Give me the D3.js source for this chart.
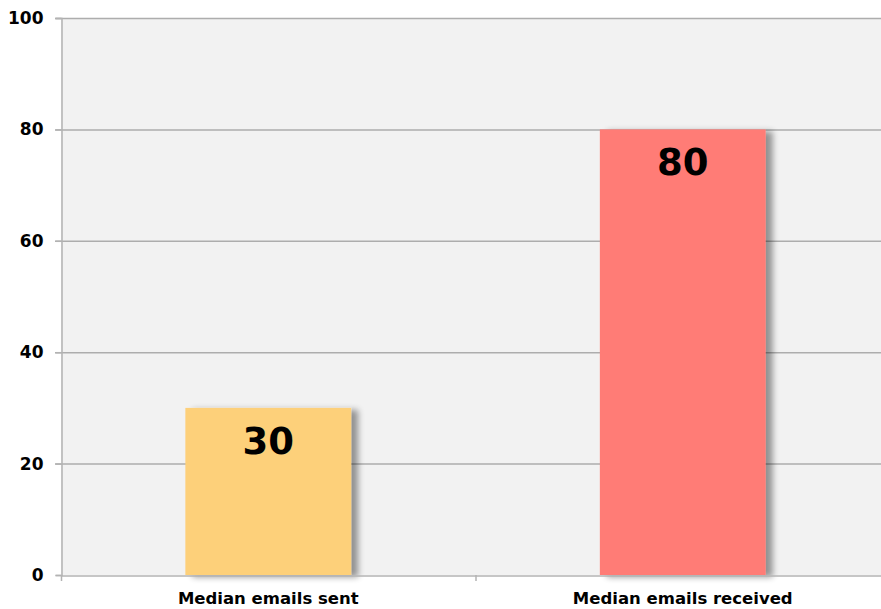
<!DOCTYPE html>
<html>
<head>
<meta charset="utf-8">
<script src="https://cdn.jsdelivr.net/npm/d3@7"></script>
<style>
  body { margin: 0; background: #fff; }
  svg text { font-family: "DejaVu Sans", Verdana, sans-serif; font-weight: bold; }
</style>
</head>
<body>
<div id="viz"></div>
<script>
const categories = ['Median emails sent', 'Median emails received'];
const values = [30, 80];
const barColors = ['#fdd07a', '#ff7b76'];
const yTicks = [0, 20, 40, 60, 80, 100];

const width = 881;
const height = 609;
const margin = { top: 18, right: -9, bottom: 34, left: 61 };

const svg = d3.select('#viz')
    .append('svg')
    .attr('width', width)
    .attr('height', height);

const defs = svg.append('defs');
const shadow = defs.append('filter').attr('id', 'shadow')
    .attr('x', '-20%').attr('y', '-20%').attr('width', '150%').attr('height', '140%');
shadow.append('feGaussianBlur').attr('in', 'SourceAlpha').attr('stdDeviation', 3).attr('result', 'blur');
shadow.append('feOffset').attr('in', 'blur').attr('dx', 7).attr('dy', 2).attr('result', 'off');
shadow.append('feComponentTransfer').attr('in', 'off').attr('result', 'sh')
    .append('feFuncA').attr('type', 'linear').attr('slope', 0.4);
const merge = shadow.append('feMerge');
merge.append('feMergeNode').attr('in', 'sh');
merge.append('feMergeNode').attr('in', 'SourceGraphic');

const x = d3.scaleBand()
    .domain(categories)
    .range([margin.left, width - margin.right])
    .paddingInner(0)
    .paddingOuter(0);

const y = d3.scaleLinear()
    .domain([0, 100])
    .range([height - margin.bottom, margin.top]);

// plot background
svg.append('rect')
    .attr('x', margin.left)
    .attr('y', margin.top)
    .attr('width', width - margin.right - margin.left)
    .attr('height', y(0) - margin.top)
    .attr('fill', '#f2f2f2');

// gridlines
svg.append('g')
    .selectAll('line')
    .data(yTicks.filter(d => d > 0))
    .join('line')
    .attr('x1', margin.left - 6)
    .attr('x2', width)
    .attr('y1', d => y(d) + 0.5)
    .attr('y2', d => y(d) + 0.5)
    .attr('stroke', '#adadad')
    .attr('stroke-width', 1.5);

// bars
const barW = x.bandwidth() * 0.4;
svg.append('g')
    .selectAll('rect')
    .data(values)
    .join('rect')
    .attr('x', (d, i) => x(categories[i]) + (x.bandwidth() - barW) / 2)
    .attr('y', d => y(d))
    .attr('width', barW)
    .attr('height', d => y(0) - y(d))
    .attr('fill', (d, i) => barColors[i])
    .attr('filter', 'url(#shadow)');

// value labels
svg.append('g')
    .selectAll('text')
    .data(values)
    .join('text')
    .attr('x', (d, i) => x(categories[i]) + x.bandwidth() / 2)
    .attr('y', d => y(d) + 46)
    .attr('text-anchor', 'middle')
    .attr('font-size', 37)
    .attr('fill', '#000')
    .text(d => d);

// y axis
const yAxis = d3.axisLeft(y).tickValues(yTicks).tickSize(6).tickPadding(12);
const gy = svg.append('g')
    .attr('transform', `translate(${margin.left + 0.5},0)`)
    .call(yAxis);
gy.select('.domain').attr('stroke', '#b3b3b3').attr('stroke-width', 1.5);
gy.selectAll('.tick line').attr('stroke', '#b3b3b3').attr('stroke-width', 1.5);
gy.selectAll('.tick text').attr('font-size', 17).attr('fill', '#000')
    .attr('font-family', '"DejaVu Sans", Verdana, sans-serif');

// x axis
const gx = svg.append('g')
    .attr('transform', `translate(0,${y(0) + 0.5})`)
    .call(d3.axisBottom(x).tickSize(0).tickPadding(17));
gx.select('.domain').attr('stroke', '#b3b3b3').attr('stroke-width', 1.5);
gx.selectAll('.tick text').attr('font-size', 16.5).attr('fill', '#000')
    .attr('font-family', '"DejaVu Sans", Verdana, sans-serif');

// category separator ticks
svg.append('g')
    .selectAll('line')
    .data(categories.slice(1))
    .join('line')
    .attr('x1', d => x(d) + 0.5)
    .attr('x2', d => x(d) + 0.5)
    .attr('y1', y(0))
    .attr('y2', y(0) + 6)
    .attr('stroke', '#b3b3b3')
    .attr('stroke-width', 1.5);
svg.append('line')
    .attr('x1', margin.left + 0.5).attr('x2', margin.left + 0.5)
    .attr('y1', y(0)).attr('y2', y(0) + 6)
    .attr('stroke', '#b3b3b3').attr('stroke-width', 1.5);
</script>
</body>
</html>
